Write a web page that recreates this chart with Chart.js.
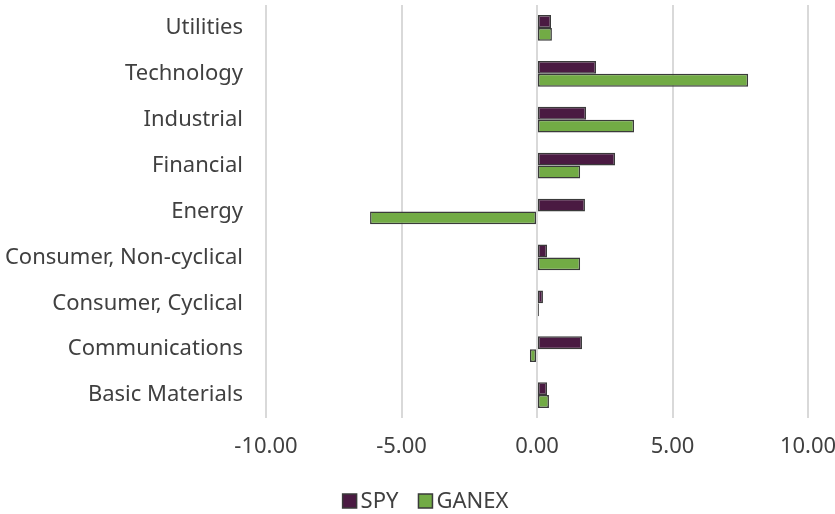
<!DOCTYPE html>
<html>
<head>
<meta charset="utf-8">
<script src="https://cdn.jsdelivr.net/npm/chart.js@4"></script>
<style>
html,body{margin:0;padding:0;background:#fff;}
#wrap{width:835px;height:514px;position:relative;}
</style>
</head>
<body>
<div id="wrap"><canvas id="c" width="835" height="514"></canvas></div>
<script>
const categories = ["Utilities","Technology","Industrial","Financial","Energy","Consumer, Non-cyclical","Consumer, Cyclical","Communications","Basic Materials"];
const spyValues = [0.52, 2.18, 1.81, 2.88, 1.77, 0.37, 0.22, 1.66, 0.37];
const ganexValues = [0.55, 7.79, 3.58, 1.59, -6.16, 1.59, 0.07, -0.26, 0.44];
const seriesNames = ["SPY","GANEX"];
const xTickMin = -10, xTickMax = 10, xTickStep = 5;

const FONT = "'Noto Sans', sans-serif";
const TXT = "#404040";

// Compact bottom legend (small gap between swatch and text), drawn from dataset labels/colours
const compactLegend = {
  id: 'compactLegend',
  afterDraw(chart) {
    const ctx = chart.ctx;
    const box = 14, gap = 4, spacing = 20;
    ctx.save();
    ctx.font = "22px 'Noto Sans', sans-serif";
    ctx.textBaseline = 'middle';
    const items = chart.data.datasets.map(ds => ({
      label: ds.label, fill: ds.backgroundColor, stroke: ds.borderColor,
      w: box + gap + ctx.measureText(ds.label).width
    }));
    const total = items.reduce((a, it) => a + it.w, 0) + spacing * (items.length - 1);
    let x = chart.width / 2 + 8 - total / 2;
    const cy = 501;
    items.forEach(it => {
      ctx.fillStyle = it.fill;
      ctx.fillRect(x, cy - box / 2, box, box);
      ctx.strokeStyle = it.stroke;
      ctx.lineWidth = 1.5;
      ctx.strokeRect(x, cy - box / 2, box, box);
      ctx.fillStyle = TXT;
      ctx.textAlign = 'left';
      ctx.fillText(it.label, x + box + gap, cy + 1);
      x += it.w + spacing;
    });
    ctx.restore();
  }
};

const chart = new Chart(document.getElementById('c'), {
  type: 'bar',
  data: {
    labels: categories,
    datasets: [
      {label: seriesNames[0], data: spyValues, backgroundColor: '#4a1a42', borderColor: '#3a3a3a', borderWidth: 1.5, borderSkipped: false},
      {label: seriesNames[1], data: ganexValues, backgroundColor: '#72ab45', borderColor: '#3a3a3a', borderWidth: 1.5, borderSkipped: false}
    ]
  },
  options: {
    indexAxis: 'y',
    responsive: false,
    animation: false,
    layout: {padding: {top: 5, right: 27, left: 0, bottom: 38}},
    datasets: {bar: {categoryPercentage: 0.56, barPercentage: 1.0}},
    scales: {
      x: {
        min: xTickMin, max: xTickMax,
        ticks: {stepSize: xTickStep, color: TXT, font: {family: FONT, size: 22}, padding: 0,
                callback: v => Number(v).toFixed(2)},
        grid: {color: '#d9d9d9', lineWidth: 2, drawTicks: true, tickLength: 16, tickColor: 'rgba(0,0,0,0)'},
        border: {display: false},
        afterFit: s => { s.height = 58; s.paddingLeft = 0; s.paddingRight = 0; }
      },
      y: {
        ticks: {color: TXT, font: {family: FONT, size: 22}, padding: 0},
        grid: {display: true, drawOnChartArea: false, drawTicks: true, tickLength: 23, tickColor: 'rgba(0,0,0,0)'},
        border: {display: false},
        afterFit: s => { s.width = 266; s.paddingTop = 0; s.paddingBottom = 0; }
      }
    },
    plugins: {
      legend: {display: false},
      tooltip: {enabled: false}
    }
  },
  plugins: [compactLegend]
});
</script>
</body>
</html>
